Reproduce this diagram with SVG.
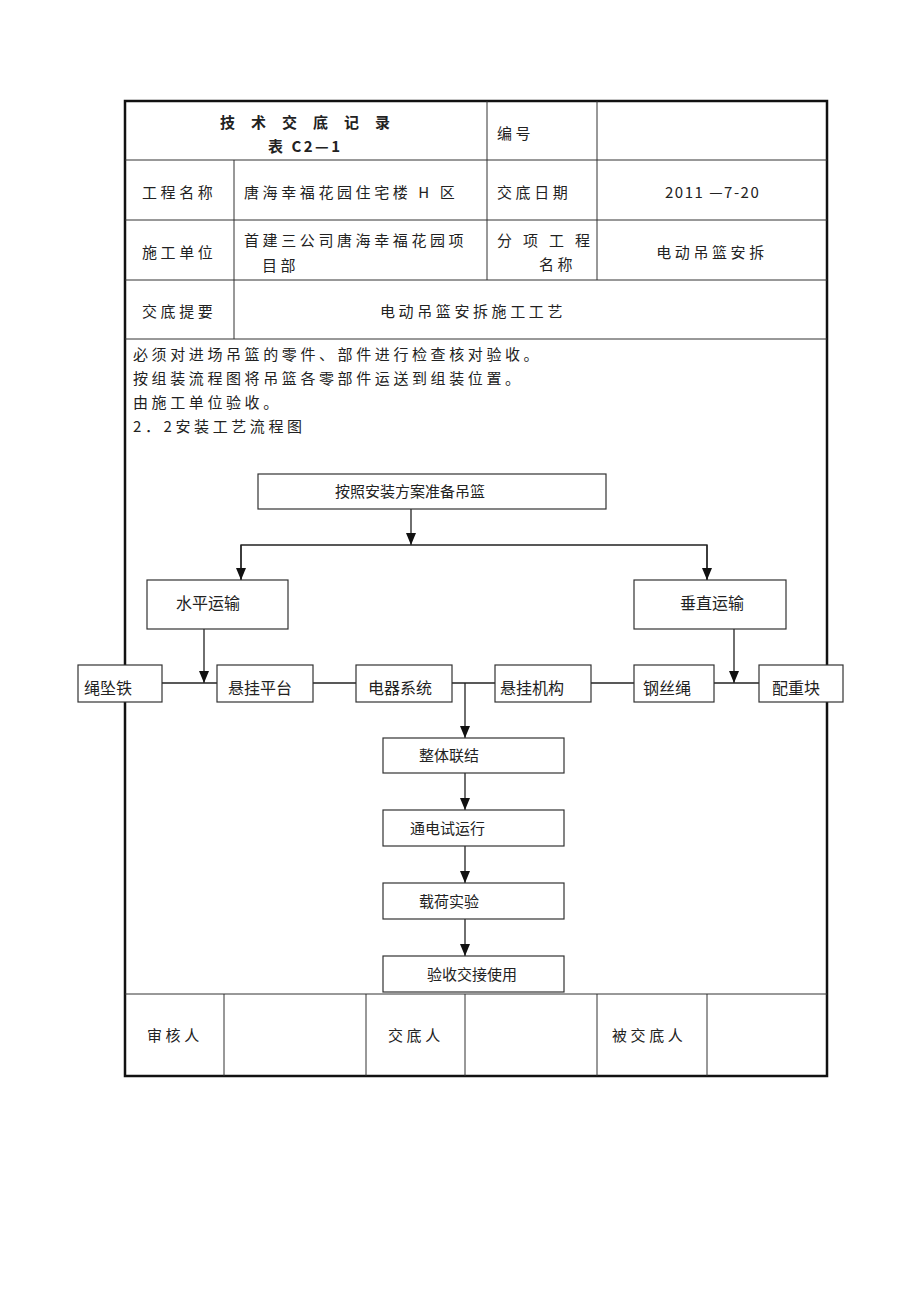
<svg xmlns="http://www.w3.org/2000/svg" width="920" height="1302" viewBox="0 0 920 1302">
<style>
text{font-family:"Noto Sans CJK SC","Noto Sans",sans-serif;fill:#222}
.t{font-size:15px;letter-spacing:3.6px}
.f{font-size:15px}
.tl{stroke:#333;stroke-width:1;fill:none}
.box{fill:#fff;stroke:#333;stroke-width:1.2}
.ln{stroke:#222;stroke-width:1.3;fill:none}
</style>
<defs>
<marker id="ad" markerWidth="10" markerHeight="12" refX="5" refY="12" orient="0" markerUnits="userSpaceOnUse" viewBox="0 0 10 12">
<path d="M0,0 L10,0 L5,12 Z" fill="#111"/>
</marker>
</defs>
<rect width="920" height="1302" fill="#fff"/>
<g id="table">
<rect x="125" y="101" width="702" height="975" fill="none" stroke="#111" stroke-width="2.5"/>
<line class="tl" x1="125" y1="160" x2="827" y2="160"/>
<line class="tl" x1="125" y1="220" x2="827" y2="220"/>
<line class="tl" x1="125" y1="280" x2="827" y2="280"/>
<line class="tl" x1="125" y1="339" x2="827" y2="339"/>
<line class="tl" x1="125" y1="994" x2="827" y2="994"/>
<line class="tl" x1="234" y1="160" x2="234" y2="339"/>
<line class="tl" x1="487" y1="101" x2="487" y2="280"/>
<line class="tl" x1="597" y1="101" x2="597" y2="280"/>
<line class="tl" x1="224" y1="994" x2="224" y2="1076"/>
<line class="tl" x1="366" y1="994" x2="366" y2="1076"/>
<line class="tl" x1="465" y1="994" x2="465" y2="1076"/>
<line class="tl" x1="597" y1="994" x2="597" y2="1076"/>
<line class="tl" x1="707" y1="994" x2="707" y2="1076"/>
<text x="220" y="128" font-size="15" font-weight="bold" letter-spacing="16">技术交底记录</text>
<text x="268" y="152" font-size="15" font-weight="bold" letter-spacing="2.5">表 C2—1</text>
<text class="t" x="497" y="139">编号</text>
<text class="t" x="142" y="198">工程名称</text>
<text class="t" x="244" y="198">唐海幸福花园住宅楼 H 区</text>
<text class="t" x="497" y="198">交底日期</text>
<text class="f" x="665" y="198" letter-spacing="1.5">2011 —7-20</text>
<text class="t" x="142" y="258">施工单位</text>
<text class="t" x="244" y="246">首建三公司唐海幸福花园项</text>
<text class="t" x="262" y="271">目部</text>
<text class="f" x="497" y="246" letter-spacing="11">分项工程</text>
<text class="t" x="539" y="270">名称</text>
<text class="t" x="712" y="258" text-anchor="middle">电动吊篮安拆</text>
<text class="t" x="142" y="317">交底提要</text>
<text class="t" x="380" y="317">电动吊篮安拆施工工艺</text>
<text class="t" x="133" y="360">必须对进场吊篮的零件、部件进行检查核对验收。</text>
<text class="t" x="133" y="384">按组装流程图将吊篮各零部件运送到组装位置。</text>
<text class="t" x="133" y="408">由施工单位验收。</text>
<text class="t" x="133" y="432">2．2安装工艺流程图</text>
<text class="t" x="147" y="1041">审核人</text>
<text class="t" x="388" y="1041">交底人</text>
<text class="t" x="612" y="1041">被交底人</text>
</g>
<g id="connectors">
<line class="ln" x1="411" y1="509" x2="411" y2="545" marker-end="url(#ad)"/>
<polyline class="ln" points="241,580 241,545 707,545 707,580"/>
<line class="ln" x1="241" y1="545" x2="241" y2="580" marker-end="url(#ad)"/>
<line class="ln" x1="707" y1="545" x2="707" y2="580" marker-end="url(#ad)"/>
<line class="ln" x1="204" y1="629" x2="204" y2="683" marker-end="url(#ad)"/>
<line class="ln" x1="734" y1="629" x2="734" y2="683" marker-end="url(#ad)"/>
<line class="ln" x1="162" y1="683" x2="217" y2="683"/>
<line class="ln" x1="313" y1="683" x2="356" y2="683"/>
<line class="ln" x1="452" y1="683" x2="495" y2="683"/>
<line class="ln" x1="591" y1="683" x2="634" y2="683"/>
<line class="ln" x1="714" y1="683" x2="759" y2="683"/>
<line class="ln" x1="465" y1="683" x2="465" y2="738" marker-end="url(#ad)"/>
<line class="ln" x1="465" y1="773" x2="465" y2="810" marker-end="url(#ad)"/>
<line class="ln" x1="465" y1="846" x2="465" y2="883" marker-end="url(#ad)"/>
<line class="ln" x1="465" y1="919" x2="465" y2="956" marker-end="url(#ad)"/>
</g>
<g id="n-prepare"><rect class="box" x="258" y="474" width="348" height="35"/><text class="f" x="410" y="497" text-anchor="middle">按照安装方案准备吊篮</text></g>
<g id="n-horizontal"><rect class="box" x="147" y="580" width="141" height="49"/><text x="176" y="609" font-size="16">水平运输</text></g>
<g id="n-vertical"><rect class="box" x="634" y="580" width="152" height="49"/><text x="680" y="609" font-size="16">垂直运输</text></g>
<g id="n-weight"><rect class="box" x="78" y="665" width="84" height="37"/><text x="84" y="694" font-size="16">绳坠铁</text></g>
<g id="n-platform"><rect class="box" x="217" y="665" width="96" height="37"/><text x="228" y="694" font-size="16">悬挂平台</text></g>
<g id="n-electric"><rect class="box" x="356" y="665" width="96" height="37"/><text x="368" y="694" font-size="16">电器系统</text></g>
<g id="n-mechanism"><rect class="box" x="495" y="665" width="96" height="37"/><text x="500" y="694" font-size="16">悬挂机构</text></g>
<g id="n-rope"><rect class="box" x="634" y="665" width="80" height="37"/><text x="643" y="694" font-size="16">钢丝绳</text></g>
<g id="n-counter"><rect class="box" x="759" y="665" width="84" height="37"/><text x="772" y="694" font-size="16">配重块</text></g>
<g id="n-assemble"><rect class="box" x="383" y="738" width="181" height="35"/><text class="f" x="419" y="761">整体联结</text></g>
<g id="n-test"><rect class="box" x="383" y="810" width="181" height="36"/><text class="f" x="410" y="834">通电试运行</text></g>
<g id="n-load"><rect class="box" x="383" y="883" width="181" height="36"/><text class="f" x="419" y="907">载荷实验</text></g>
<g id="n-accept"><rect class="box" x="383" y="956" width="181" height="36"/><text class="f" x="427" y="980">验收交接使用</text></g>
</svg>
